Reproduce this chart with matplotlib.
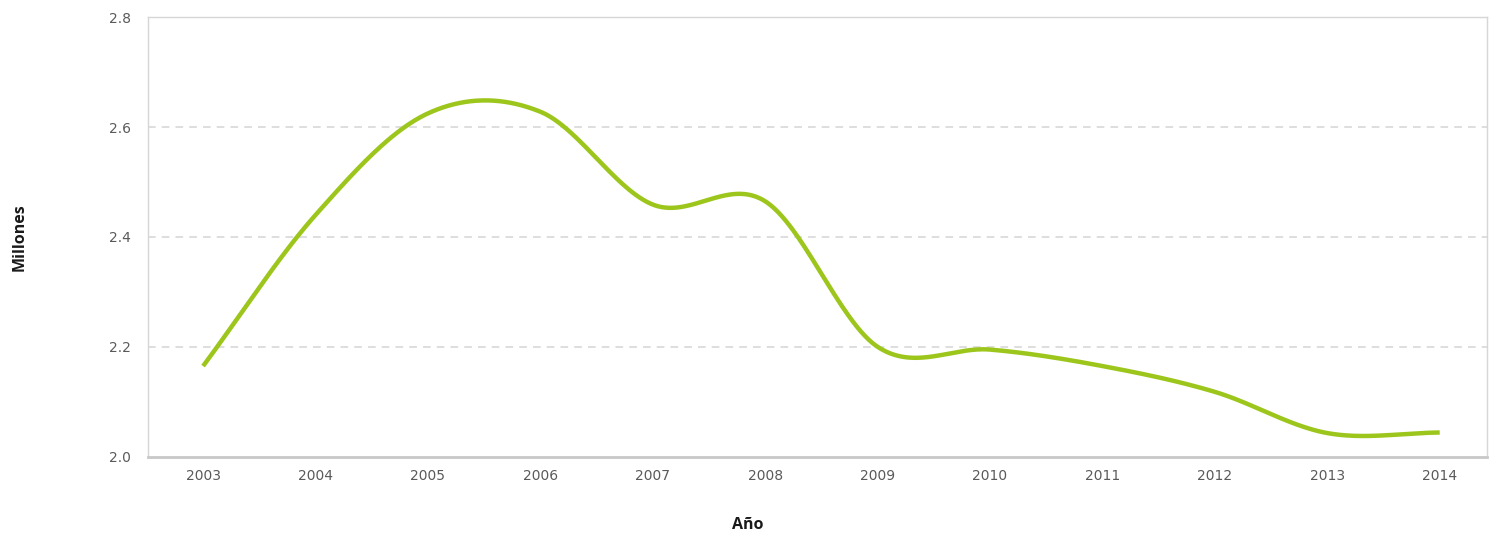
import numpy as np
import matplotlib
matplotlib.use("Agg")
import matplotlib.pyplot as plt

years = ["2003", "2004", "2005", "2006", "2007", "2008", "2009", "2010", "2011", "2012", "2013", "2014"]
values = [2.165, 2.44, 2.625, 2.628, 2.459, 2.465, 2.20, 2.195, 2.165, 2.118, 2.043, 2.044]
y_ticks = [2.0, 2.2, 2.4, 2.6, 2.8]
y_tick_labels = ["2.0", "2.2", "2.4", "2.6", "2.8"]
grid_levels = [2.2, 2.4, 2.6]


def catmull_rom(xs, ys, n=60):
    xs = np.asarray(xs, float)
    ys = np.asarray(ys, float)
    m = np.zeros_like(ys)
    m[1:-1] = (ys[2:] - ys[:-2]) / (xs[2:] - xs[:-2])
    m[0] = ys[1] - ys[0]
    m[-1] = ys[-1] - ys[-2]
    out_x, out_y = [], []
    for i in range(len(xs) - 1):
        t = np.linspace(0, 1, n, endpoint=(i == len(xs) - 2))
        h = xs[i + 1] - xs[i]
        h00 = 2 * t**3 - 3 * t**2 + 1
        h10 = t**3 - 2 * t**2 + t
        h01 = -2 * t**3 + 3 * t**2
        h11 = t**3 - t**2
        out_x.append(xs[i] + t * h)
        out_y.append(h00 * ys[i] + h10 * h * m[i] + h01 * ys[i + 1] + h11 * h * m[i + 1])
    return np.concatenate(out_x), np.concatenate(out_y)


fig = plt.figure(figsize=(14.92, 5.39), dpi=100)
ax = fig.add_axes([0.0992, 0.1527, 0.8974, 0.8153])

x = np.arange(len(years))
sx, sy = catmull_rom(x, values)
ax.plot(sx, sy, color="#9dc61c", lw=3.2, solid_capstyle="butt", zorder=3)

for g in grid_levels:
    ax.axhline(g, color="#d4d4d4", lw=1.1, ls=(0, (5, 4)), zorder=1)

ax.set_xlim(-0.49, 11.42)
ax.set_ylim(2.0, 2.8)
ax.set_xticks(x)
ax.set_xticklabels(years)
ax.set_yticks(y_ticks)
ax.set_yticklabels(y_tick_labels)
ax.tick_params(axis="both", length=0, labelsize=10, colors="#5a5a5a")
ax.tick_params(axis="x", pad=9)
ax.tick_params(axis="y", pad=12)

for side in ["top", "right", "left"]:
    ax.spines[side].set_color("#d6d6d6")
    ax.spines[side].set_linewidth(1.0)
ax.spines["bottom"].set_color("#c8c8c8")
ax.spines["bottom"].set_linewidth(2.0)

fig.text(0.0134, 0.56, "Millones", rotation=90, ha="center", va="center",
         fontsize=11.5, fontweight="bold", color="#1a1a1a", family="Open Sans")
fig.text(0.5013, 0.012, "Año", ha="center", va="bottom",
         fontsize=11.5, fontweight="bold", color="#1a1a1a", family="Open Sans")

fig.savefig("out.png", dpi=100, facecolor="white")
